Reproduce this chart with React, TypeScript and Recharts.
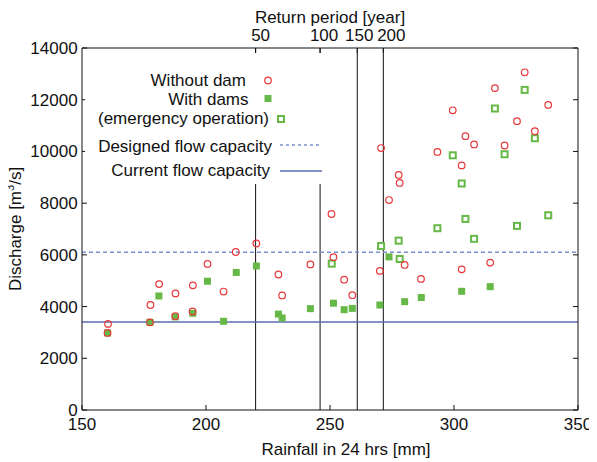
import { ScatterChart, Scatter, XAxis, YAxis, ReferenceLine, Legend } from 'recharts';

// rainfall [mm] / discharge [m3/s]
const withoutDamRain = [
  160.5, 160.3, 177.6, 177.4, 181.1, 187.7, 187.6, 194.7, 194.6, 200.6,
  207.1, 212.0, 220.3, 229.2, 230.7, 242.1, 250.6, 251.4, 255.7, 259.0,
  270.6, 270.1, 273.8, 277.7, 278.1, 280.1, 286.7, 293.3, 299.5, 303.1,
  303.1, 304.6, 308.1, 314.6, 316.5, 320.4, 325.4, 328.5, 332.6, 338.0,
];
const withoutDamQ = [
  3330, 2980, 4060, 3390, 4870, 4510, 3630, 4820, 3810, 5650,
  4580, 6110, 6440, 5240, 4430, 5630, 7580, 5910, 5040, 4440,
  10130, 5380, 8120, 9090, 8780, 5610, 5070, 9980, 11590, 9460,
  5440, 10590, 10270, 5700, 12450, 10230, 11170, 13060, 10780, 11800,
];

const withDamsRain = [
  160.3, 177.4, 181.0, 187.6, 194.7, 200.6, 207.1, 212.2, 220.3, 229.2,
  230.7, 242.1, 251.4, 255.7, 259.0, 270.1, 273.8, 280.1, 286.8, 303.1, 314.6,
];
const withDamsQ = [
  2980, 3390, 4410, 3600, 3740, 4980, 3430, 5320, 5570, 3710,
  3560, 3920, 4130, 3880, 3930, 4060, 5920, 4190, 4350, 4590, 4770,
];

const emergencyRain = [
  250.7, 270.6, 277.7, 278.1, 293.3, 299.5, 303.1, 304.6, 308.1, 316.5,
  320.4, 325.4, 328.5, 332.6, 338.0,
];
const emergencyQ = [
  5660, 6340, 6550, 5840, 7030, 9850, 8760, 7390, 6620, 11660,
  9890, 7120, 12380, 10510, 7530,
];

const returnPeriods = [50, 100, 150, 200];
const returnRain = [220, 246, 261, 271.5];

const xTicks = [150, 200, 250, 300, 350];
const yTicks = [0, 2000, 4000, 6000, 8000, 10000, 12000, 14000];

const designedCapacity = 6100;
const currentCapacity = 3400;

const RED = '#e8383b';
const GREEN = '#66b947';
const DASHED = '#7b90cc';
const SOLID = '#5a6cb0';
const INK = '#111';
const FONT = '"Liberation Sans", Arial, sans-serif';

// the return-period labels sit a little right of their lines in the original
const returnLabelShift = [5, 4, 2, 8];

const zip = (xs: number[], ys: number[]) => xs.map((x, i) => ({ x, y: ys[i] }));

function RedCircle(p: any) {
  return <circle cx={p.cx} cy={p.cy} r={3.3} fill="none" stroke={RED} strokeWidth={1.2} />;
}
function FilledSquare(p: any) {
  return <rect x={p.cx - 3.5} y={p.cy - 3.5} width={7} height={7} fill={GREEN} />;
}
function OpenSquare(p: any) {
  return <rect x={p.cx - 3} y={p.cy - 3} width={6} height={6} fill="#fff" stroke={GREEN} strokeWidth={2} />;
}

function ReturnTick(p: any) {
  const i = returnRain.indexOf(p.payload.value);
  return (
    <text x={p.x + returnLabelShift[i]} y={p.y} textAnchor="middle" fontSize={17} fill={INK} fontFamily={FONT}>
      {returnPeriods[i]}
    </text>
  );
}

function LegendBox() {
  const t = { fontSize: 17, fill: INK, fontFamily: FONT, textAnchor: 'end' as const };
  return (
    <svg width={242} height={131} style={{ display: 'block' }}>
      <text x={161} y={32.5} {...t}>Without dam</text>
      <RedCircle cx={183} cy={27.5} />
      <text x={163.5} y={51.5} {...t}>With dams</text>
      <FilledSquare cx={183} cy={45.5} />
      <text x={184} y={70.5} {...t}>(emergency operation)</text>
      <OpenSquare cx={196} cy={66} />
      <text x={187} y={98.5} {...t}>Designed flow capacity</text>
      <line x1={195} x2={237} y1={92} y2={92} stroke={DASHED} strokeWidth={1.3} strokeDasharray="3 3" />
      <text x={185} y={123} {...t}>Current flow capacity</text>
      <line x1={195} x2={237} y1={118} y2={118} stroke={SOLID} strokeWidth={1.5} />
    </svg>
  );
}

export default function App() {
  const tick = { fontSize: 17, fill: INK, fontFamily: FONT };
  return (
    <ScatterChart
      width={589}
      height={454}
      margin={{ top: 0, right: 0, bottom: 0, left: 0 }}
      style={{ fontFamily: FONT }}
    >
      <XAxis
        xAxisId="bottom"
        dataKey="x"
        type="number"
        domain={[150, 350]}
        ticks={xTicks}
        interval={0}
        height={52}
        tick={tick}
        tickSize={-5}
        tickMargin={13}
        stroke={INK}
        label={{
          content: (props: any) => {
            const vb = props.viewBox;
            return (
              <text x={vb.x + vb.width / 2 + 16} y={vb.y + 45} textAnchor="middle" fontSize={17} fill={INK} fontFamily={FONT}>
                Rainfall in 24 hrs [mm]
              </text>
            );
          },
        }}
      />
      <XAxis
        xAxisId="top"
        orientation="top"
        dataKey="x"
        type="number"
        domain={[150, 350]}
        ticks={returnRain}
        interval={0}
        height={40}
        tick={<ReturnTick />}
        tickSize={-5}
        tickMargin={11.6}
        stroke={INK}
        label={{
          content: (props: any) => {
            const vb = props.viewBox;
            return (
              <text x={vb.x + vb.width / 2} y={vb.y + 15} textAnchor="middle" fontSize={17} fill={INK} fontFamily={FONT}>
                Return period [year]
              </text>
            );
          },
        }}
      />
      <YAxis
        yAxisId="left"
        dataKey="y"
        type="number"
        domain={[0, 14000]}
        ticks={yTicks}
        interval={0}
        width={74}
        tick={tick}
        tickSize={-5}
        tickMargin={9.4}
        stroke={INK}
        label={{
          content: (props: any) => {
            const vb = props.viewBox;
            const cx = vb.x + 12.5;
            const cy = vb.y + vb.height / 2;
            return (
              <text x={cx} y={cy} transform={`rotate(-90, ${cx}, ${cy})`} textAnchor="middle" fontSize={17} fill={INK} fontFamily={FONT}>
                Discharge [m
                <tspan dy={-7} fontSize={11}>3</tspan>
                <tspan dy={7}>/s]</tspan>
              </text>
            );
          },
        }}
      />
      <YAxis
        yAxisId="right"
        orientation="right"
        dataKey="y"
        type="number"
        domain={[0, 14000]}
        ticks={yTicks}
        interval={0}
        width={19}
        tickSize={-5}
        tickFormatter={() => ''}
        stroke={INK}
      />

      {returnRain.map((r) => (
        <ReferenceLine key={r} xAxisId="top" yAxisId="left" x={r} stroke={INK} strokeWidth={1} />
      ))}
      <ReferenceLine xAxisId="bottom" yAxisId="left" y={designedCapacity} stroke={DASHED} strokeWidth={1.5} strokeDasharray="4 3" />
      <ReferenceLine xAxisId="bottom" yAxisId="left" y={currentCapacity} stroke={SOLID} strokeWidth={1.5} />

      <Scatter
        xAxisId="bottom"
        yAxisId="left"
        name="With dams"
        data={zip(withDamsRain, withDamsQ)}
        shape={FilledSquare}
        isAnimationActive={false}
      />
      <Scatter
        xAxisId="bottom"
        yAxisId="right"
        name="(emergency operation)"
        data={zip(emergencyRain, emergencyQ)}
        shape={OpenSquare}
        isAnimationActive={false}
      />
      <Scatter
        xAxisId="top"
        yAxisId="left"
        name="Without dam"
        data={zip(withoutDamRain, withoutDamQ)}
        shape={RedCircle}
        isAnimationActive={false}
      />

      <Legend
        layout="horizontal"
        verticalAlign="middle"
        align="center"
        content={<LegendBox />}
        wrapperStyle={{ left: 77, top: 45, width: 242, height: 131, background: '#fff' }}
      />
    </ScatterChart>
  );
}
